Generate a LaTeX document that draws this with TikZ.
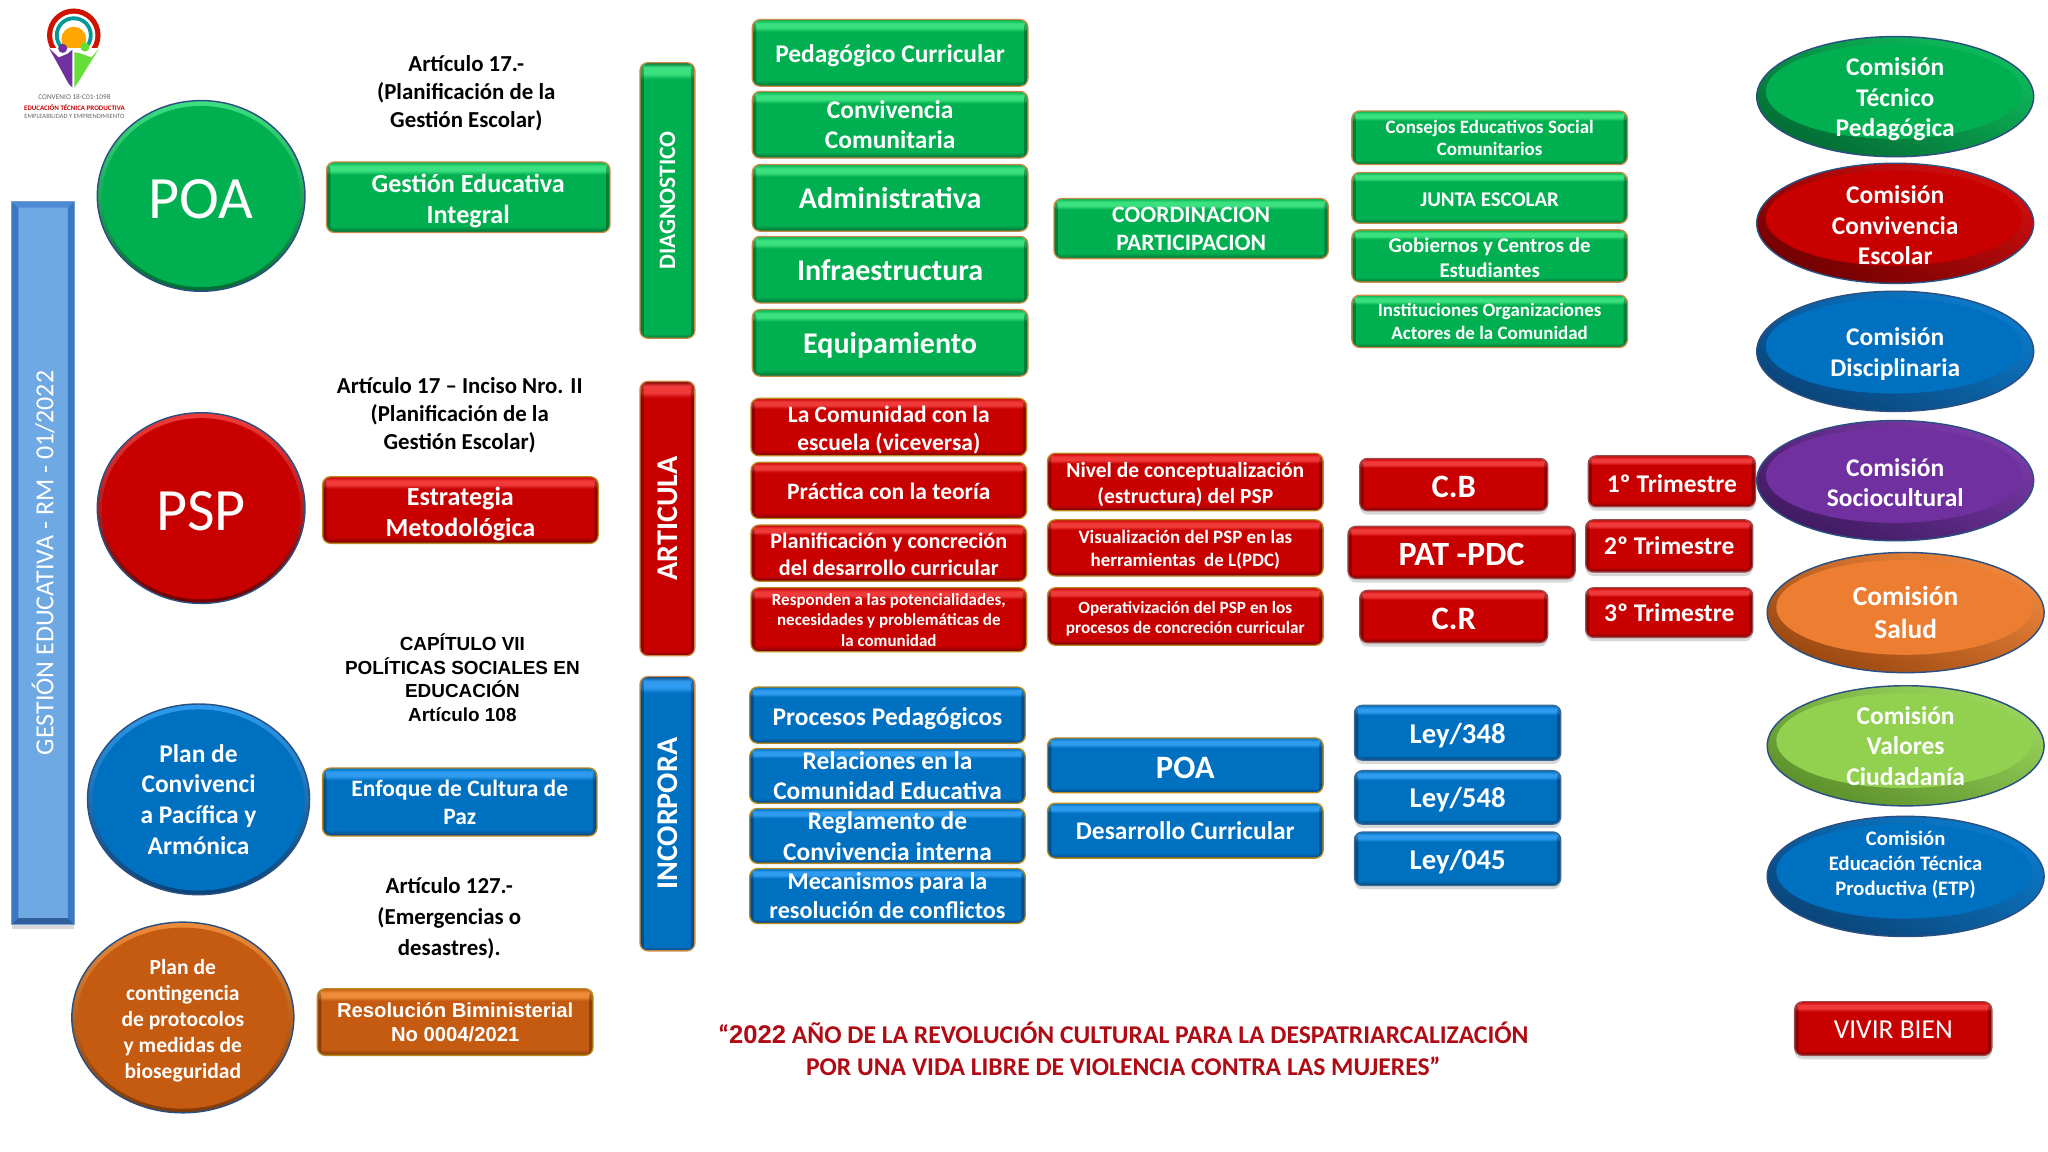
\documentclass[tikz,border=0pt]{standalone}
\usepackage{fontspec}
\usepackage{graphicx}
\setmainfont{Carlito}
\newfontfamily\arl{Liberation Sans}
\usetikzlibrary{shapes.geometric,shadows,calc}
\definecolor{gM}{HTML}{00B050}\definecolor{gL}{HTML}{3BE07F}\definecolor{gD}{HTML}{036B34}
\definecolor{rM}{HTML}{C80000}\definecolor{rL}{HTML}{F03A3A}\definecolor{rD}{HTML}{700000}
\definecolor{bM}{HTML}{0070C0}\definecolor{bL}{HTML}{2E9BEE}\definecolor{bD}{HTML}{0A4478}
\definecolor{oM}{HTML}{C55A11}\definecolor{oL}{HTML}{EE8C3A}\definecolor{oD}{HTML}{7F3A08}
\definecolor{pM}{HTML}{7030A0}\definecolor{pL}{HTML}{9A5AC8}\definecolor{pD}{HTML}{3F1A60}
\definecolor{sM}{HTML}{ED7D31}\definecolor{sL}{HTML}{F7A565}\definecolor{sD}{HTML}{99470F}
\definecolor{lM}{HTML}{92D050}\definecolor{lL}{HTML}{B7E886}\definecolor{lD}{HTML}{5C8F2A}
\definecolor{nav}{HTML}{2A4F80}\definecolor{tan}{HTML}{C98B45}\definecolor{gold}{HTML}{B98A1E}
\definecolor{sloganred}{HTML}{B00A14}
\definecolor{barM}{HTML}{6FA9E4}\definecolor{barS}{HTML}{3A78C2}\definecolor{barT}{HTML}{4C8BD4}\definecolor{barB}{HTML}{2F5F9C}
\newcommand\mkshade[3]{%
 \pgfdeclareverticalshading{sh#1}{100bp}{color(0bp)=(#3);color(25bp)=(#3);color(29.5bp)=(#2);color(66bp)=(#2);color(69bp)=(#1L);color(72bp)=(#1L);color(75bp)=(#2);color(100bp)=(#2)}%
 \pgfdeclareverticalshading{st#1}{100bp}{color(0bp)=(#3);color(25bp)=(#3);color(25.8bp)=(#2);color(72bp)=(#2);color(73bp)=(#1L);color(74.2bp)=(#1L);color(75bp)=(#3);color(100bp)=(#3)}}
\mkshade{g}{gM}{gD}\mkshade{r}{rM}{rD}\mkshade{b}{bM}{bD}\mkshade{o}{oM}{oD}
\newcommand\fz[1]{\fontsize{#1}{#1}\selectfont\setlength{\baselineskip}{1.2\dimexpr#1pt\relax}}
\newcommand\myextra{}
% \dn{n} at the start of a first line drops the text n units; \lift{n} at the end of a last line raises it
\newcommand\dn[1]{\rule{0pt}{\dimexpr 0.75em+#1pt*2\relax}}
\newcommand\lift[1]{\rule[\dimexpr -0.25em-#1pt*2\relax]{0pt}{\dimexpr 0.25em+#1pt*2\relax}}
\tikzset{
 extra/.code={\def\myextra{#1}},
 box/.style={rectangle,rounded corners=6pt,line width=1pt,inner sep=0pt,align=center,text=white,extra=\bfseries,
   path picture={\fill[black,opacity=.28] (path picture bounding box.north west) rectangle ++(3pt,-260pt);
     \fill[black,opacity=.28] (path picture bounding box.north east) rectangle ++(-3pt,-260pt);}},
 boxg/.style={box,shading=shg,draw=tan},
 boxr/.style={box,shading=shr,draw=gold},
 boxb/.style={box,shading=shb,draw=gold},
 boxo/.style={box,shading=sho,draw=gold},
 tallg/.style={box,shading=stg,draw=tan},
 tallr/.style={box,shading=str,draw=tan},
 tallb/.style={box,shading=stb,draw=tan},
 boxrs/.style={box,shading=shr,draw=rD!70,drop shadow={shadow xshift=0pt,shadow yshift=-3pt,opacity=.3}},
 boxbs/.style={box,shading=shb,draw=bD!80,drop shadow={shadow xshift=0pt,shadow yshift=-3pt,opacity=.3}},
 blk/.style={align=center,text=black,inner sep=0pt},
 orb/.style={ellipse,inner sep=-30pt,align=center,text=white,draw=nav,line width=1.1pt,extra=\bfseries},
}
% name, style, x1,y1,x2,y2, fontsize, text
\newcommand\bx[8]{\node[font={\fz{#7}\myextra},#2,minimum width={(#5)-(#3)},minimum height={(#6)-(#4)}] (#1) at ({((#3)+(#5))/2},{((#4)+(#6))/2}) {#8};}
% name, colour, cx,cy,rx,ry, fontsize, text
\newcommand\orbn[8]{\node[font={\fz{#7}\myextra},orb,top color=#2M!75!#2L,bottom color=#2D,shading angle=-25,minimum width={2*(#5)},minimum height={2*(#6)},
   path picture={\fill[#2M] (path picture bounding box.center) ++(-1pt,4pt) ellipse ({(#5)*0.925} and {(#6)*0.79});}] (#1) at (#3,#4) {#8};}
\newcommand\circn[8]{\node[font={\fz{#7}\myextra},orb,top color=#2L,bottom color=#2D,shading angle=0,minimum width={2*(#5)},minimum height={2*(#6)},
   path picture={\fill[#2M] (path picture bounding box.center) ++(0,-0.5pt) ellipse ({(#5)*0.955} and {(#6)*0.95});}] (#1) at (#3,#4) {#8};}
\begin{document}
\begin{tikzpicture}[x=1pt,y=-1pt]
\useasboundingbox (0,0) rectangle (1568,882);
\fill[white] (0,0) rectangle (1568,882);
% logo
\begin{scope}
\fill[rM!85!orange] (56.5,27) circle (20.5);
\fill[white] (56.5,27) circle (16.5);
\fill[teal!80!cyan] (56.5,27) circle (14.5);
\fill[white] (56.5,27) circle (11.5);
\fill[orange!70!yellow] (56.5,30) circle (9.5);
\fill[white] (36,37) rectangle (78,50);
\fill[pM] (37.5,37) -- (45,44) -- (52,41) -- (55.5,38) -- (55.5,67) -- (52.5,64) -- (41.5,44) -- cycle;
\fill[lM!70!green] (76,37) -- (70,44) -- (62,41) -- (57,40) -- (57,67) -- (60.5,62) -- (71.5,44) -- cycle;
\fill[pM] (48,37) circle (3.5);
\fill[lM!70!green] (65,36) circle (3.5);
\end{scope}
\node[blk,text=black!60,font=\fz{5.6}] (logo1) at (57,74.5) {CONVENIO 18-C01-1098};
\node[blk,text=rM,font={\fz{5.3}\bfseries}] (logo2) at (57,82.5) {EDUCACIÓN TÉCNICA PRODUCTIVA};
\node[blk,text=black!60,font=\fz{5}] (logo3) at (57,89) {EMPLEABILIDAD Y EMPRENDIMIENTO};
% left bar
\node[rectangle,minimum width=48,minimum height=554,inner sep=0,draw=barS!70,line width=.6pt,fill=barM,drop shadow={shadow xshift=0pt,shadow yshift=-3pt,opacity=.3},text=white,font=\fz{19.9},
  path picture={
   \fill[barS] (path picture bounding box.north west) -- ++(5,5) -- ++(0,544) -- ++(-5,5) -- cycle;
   \fill[barS] (path picture bounding box.north east) -- ++(-5,5) -- ++(0,544) -- ++(5,5) -- cycle;
   \fill[barT] (path picture bounding box.north west) -- ++(5,5) -- ++(38,0) -- ++(5,-5) -- cycle;
   \fill[barB] (path picture bounding box.south west) -- ++(5,-5) -- ++(38,0) -- ++(5,5) -- cycle;
  }] (lbar) at (33,431) {\rotatebox{90}{GESTIÓN EDUCATIVA - RM - 01/2022}};
% left circles
\circn{poa}{g}{154}{150}{79.5}{73}{46}{\mdseries\dn{0}POA}
\circn{psp}{r}{154}{389}{79.5}{73}{46}{\mdseries\dn{0}PSP}
\circn{plc}{b}{152}{612}{85}{73}{19.5}{Plan de\\Convivenci\\a Pacífica y\\Armónica}
\circn{pco}{o}{140}{779}{85}{73}{16.5}{\dn{2}Plan de\\contingencia\\de protocolos\\y medidas de\\bioseguridad}
% article captions
\node[blk,font={\fz{17.5}\setlength{\baselineskip}{21.5pt}\bfseries}] (art1) at (357,71.5) {Artículo 17.-\\(Planificación de la\\Gestión Escolar)};
\node[blk,font={\fz{17.5}\setlength{\baselineskip}{21.5pt}\bfseries}] (art2) at (352,318) {Artículo 17 – Inciso Nro. II\\(Planificación de la\\Gestión Escolar)};
\node[blk,font={\arl\fz{14.5}\setlength{\baselineskip}{18pt}\bfseries}] (art3) at (354,519) {CAPÍTULO VII\\POLÍTICAS SOCIALES EN\\EDUCACIÓN\\Artículo 108};
\node[blk,font={\fz{17.5}\setlength{\baselineskip}{23.5pt}\bfseries}] (art4) at (344,703) {Artículo 127.-\\(Emergencias o\\desastres).};
% column 1
\bx{ge}{boxg}{250}{124}{467}{178}{20}{\dn{2.5}Gestión Educativa\\Integral}
\bx{em}{boxr}{247}{365}{458}{416}{20}{\dn{2.5}Estrategia\\Metodológica}
\bx{ec}{boxb}{247}{588}{457}{640}{18}{Enfoque de Cultura de\\Paz}
\bx{rb}{boxo,extra={\arl\setlength{\baselineskip}{18.5pt}\bfseries}}{243}{757}{454}{808}{15.5}{Resolución Biministerial\\No 0004/2021}
% vertical
\bx{vd}{tallg}{490}{48}{532}{259}{18}{\rotatebox{90}{DIAGNOSTICO}}
\bx{va}{tallr}{490}{292}{532}{502}{23}{\rotatebox{90}{ARTICULA}}
\bx{vi}{tallb}{490}{518}{532}{728}{23}{\rotatebox{90}{INCORPORA}}
% column 2
\bx{g1}{boxg}{576}{15}{787}{66}{19.5}{\dn{2}Pedagógico Curricular}
\bx{g2}{boxg}{576}{70}{787}{121}{19.5}{Convivencia\\Comunitaria}
\bx{g3}{boxg}{576}{126}{787}{177}{23}{Administrativa}
\bx{g4}{boxg}{576}{181}{787}{232}{23}{Infraestructura}
\bx{g5}{boxg}{576}{237}{787}{288}{23}{\dn{1.5}Equipamiento}
\bx{r1}{boxr}{575}{305}{786}{349}{18}{\dn{2}La Comunidad con la\\escuela (viceversa)}
\bx{r2}{boxr}{575}{354}{786}{397}{18}{\dn{0.5}Práctica con la teoría}
\bx{r3}{boxr}{575}{402}{786}{445}{17}{\dn{0.5}Planificación y concreción\\del desarrollo curricular}
\bx{r4}{boxr}{575}{450}{786}{499}{13}{Responden a las potencialidades,\\necesidades y problemáticas de\\la comunidad}
\bx{b1}{boxb}{574}{526}{785}{569}{19.5}{\dn{2.5}Procesos Pedagógicos}
\bx{b2}{boxb}{574}{573}{785}{615}{19.5}{Relaciones en la\\Comunidad Educativa}
\bx{b3}{boxb}{574}{619}{785}{661}{19.5}{Reglamento de\\Convivencia interna}
\bx{b4}{boxb}{574}{665}{785}{707}{18.5}{Mecanismos para la\\resolución de conflictos}
% column 3
\bx{cp}{boxg}{807}{152}{1017}{198}{18}{COORDINACION\\PARTICIPACION}
\bx{n1}{boxr}{802}{347}{1013}{391}{16.5}{\dn{1.5}Nivel de conceptualización\\(estructura) del PSP}
\bx{n2}{boxr}{802}{398}{1013}{441}{14.5}{\dn{1}Visualización del PSP en las\\herramientas\ \ de L(PDC)}
\bx{n3}{boxr}{802}{450}{1013}{494}{13.2}{\dn{1.5}Operativización del PSP en los\\procesos de concreción curricular}
\bx{p1}{boxb}{802}{565}{1013}{607}{25}{\dn{1}POA}
\bx{p2}{boxb}{802}{615}{1013}{657}{19.5}{Desarrollo Curricular}
% column 4
\bx{c1}{boxg}{1035}{85}{1246}{126}{14.5}{Consejos Educativos Social\\Comunitarios}
\bx{c2}{boxg}{1035}{132}{1246}{171}{16}{\dn{0.5}JUNTA ESCOLAR}
\bx{c3}{boxg}{1035}{176}{1246}{216}{16}{\dn{1}Gobiernos y Centros de\\Estudiantes}
\bx{c4}{boxg}{1035}{226}{1246}{266}{14.5}{Instituciones Organizaciones\\Actores de la Comunidad}
\bx{cb}{boxrs}{1041}{351}{1185}{391}{25}{\dn{0.5}C.B}
\bx{pp}{boxrs}{1032}{403}{1206}{443}{26}{\dn{0}PAT -PDC}
\bx{cr}{boxrs}{1041}{452}{1185}{492}{25}{\dn{0.5}C.R}
\bx{l1}{boxbs}{1037}{540}{1195}{582}{22}{\dn{1.5}Ley/348}
\bx{l2}{boxbs}{1037}{590}{1195}{631}{22}{\dn{1.5}Ley/548}
\bx{l3}{boxbs}{1037}{637}{1195}{678}{22}{\dn{1.5}Ley/045}
% trimesters
\bx{t1}{boxrs}{1216}{349}{1344}{388}{19.5}{\dn{1.5}1º Trimestre}
\bx{t2}{boxrs}{1214}{398}{1342}{438}{19.5}{2º Trimestre}
\bx{t3}{boxrs}{1214}{450}{1342}{488}{19.5}{3º Trimestre}
% commissions
\orbn{e1}{g}{1451}{74}{106}{46}{19.5}{\dn{1.5}Comisión\\Técnico\\Pedagógica}
\orbn{e2}{r}{1451}{171}{106}{46}{19.5}{\dn{1}Comisión\\Convivencia\\Escolar}
\orbn{e3}{b}{1451}{269}{106}{46}{19.5}{\dn{1.5}Comisión\\Disciplinaria}
\orbn{e4}{p}{1451}{368}{106}{46}{19.5}{\dn{1}Comisión\\Sociocultural}
\orbn{e5}{s}{1459}{469}{106}{46}{21}{Comisión\\Salud}
\orbn{e6}{l}{1459}{571}{106}{46}{19.5}{Comisión\\Valores\\Ciudadanía}
\orbn{e7}{b}{1459}{671}{106}{46}{15.8}{Comisión\\Educación Técnica\\Productiva (ETP)\lift{8}}
% slogan
\node[blk,text=sloganred,font={\fz{19.6}\setlength{\baselineskip}{24pt}\bfseries}] (slog) at (860,803) {“{\arl 2022} AÑO DE LA REVOLUCIÓN CULTURAL PARA LA DESPATRIARCALIZACIÓN\\POR UNA VIDA LIBRE DE VIOLENCIA CONTRA LAS MUJERES”};
\bx{vb}{boxrs,extra=\mdseries}{1374}{767}{1525}{808}{21}{\dn{0}VIVIR BIEN}
\end{tikzpicture}
\end{document}
